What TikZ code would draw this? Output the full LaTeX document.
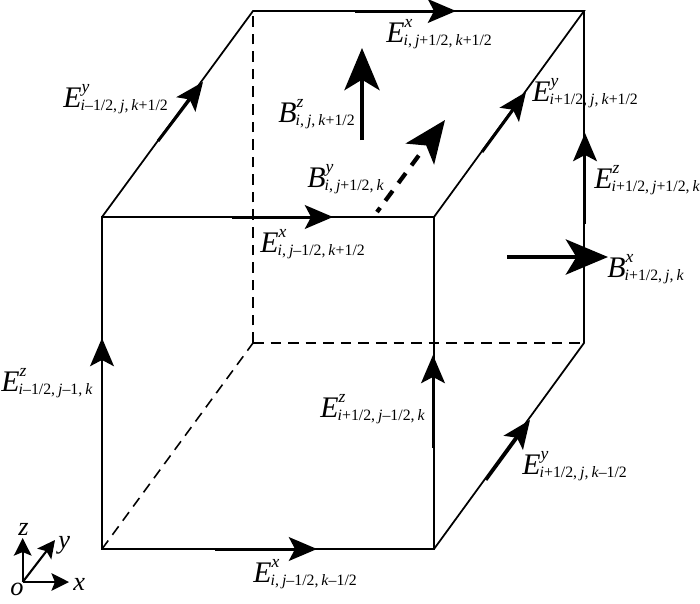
\documentclass[tikz,border=0pt]{standalone}
\usepackage{fontspec}
\setmainfont{Liberation Serif}
\usetikzlibrary{arrows.meta}

\newcommand{\fieldlab}[3]{\textit{#1}\rlap{\raisebox{8.5pt}{\fontsize{10}{10}\selectfont\textit{#2}}}\kern-0.5pt\raisebox{-2pt}{\fontsize{9}{9}\selectfont\spaceskip=1.7pt #3}}
\newcommand{\vi}{\textit{i}}
\newcommand{\vj}{\textit{j}}
\newcommand{\vk}{\textit{k}}

\tikzset{
    cubeedge/.style={line width=1pt},
    hidden/.style={line width=0.9pt,dash pattern=on 6pt off 4pt},
    efield/.style={line width=1.7pt,-{Stealth[length=16pt,width=13.5pt,inset=3.5pt]}},
    bfield/.style={line width=2.4pt,-{Stealth[length=24pt,width=20pt,inset=6pt]}},
    axis/.style={line width=1.2pt,-{Stealth[length=10pt,width=10pt,inset=2pt]}},
    lab/.style={anchor=base west,inner sep=0pt,font=\fontsize{17}{17}\selectfont},
    axislab/.style={anchor=base west,inner sep=0pt,font=\fontsize{15}{15}\selectfont\itshape},
}

\begin{document}
\begin{tikzpicture}[x=0.02cm,y=-0.02cm]
    \useasboundingbox (0,0) rectangle (700,603);

    % Cube corners
    \coordinate (flb) at (102,549);
    \coordinate (frb) at (434,549);
    \coordinate (flt) at (102,217);
    \coordinate (frt) at (434,217);
    \coordinate (blb) at (253,343);
    \coordinate (brb) at (584,343);
    \coordinate (blt) at (253,11);
    \coordinate (brt) at (584,11);

    % Visible edges
    \draw[cubeedge] (flb) -- (frb) -- (frt) -- (flt) -- cycle;
    \draw[cubeedge] (flt) -- (blt) -- (brt) -- (frt);
    \draw[cubeedge] (brt) -- (brb) -- (frb);

    % Hidden edges
    \draw[hidden] (flb) -- (blb);
    \draw[hidden] (blb) -- (brb);
    \draw[hidden] (blb) -- (blt);

    % E field arrows
    \draw[efield] (355,11) -- (456,11);
    \draw[efield] (232,217) -- (333,217);
    \draw[efield] (215,549) -- (317,549);
    \draw[efield] (158,141) -- (203,82);
    \draw[efield] (482,152) -- (526,92);
    \draw[efield] (486,480) -- (530,420);
    \draw[efield] (585,224) -- (585,133);
    \draw[efield] (102,429) -- (102,338);
    \draw[efield] (433,448) -- (433,355);

    % B field arrows
    \draw[bfield] (362,140) -- (362,48);
    \draw[bfield] (507,257) -- (608,257);
    \draw[bfield,dash pattern=on 3pt off 5pt on 7pt off 5.5pt on 7pt off 5.5pt on 7pt off 40pt] (377,212) -- (445,120);

    % Field labels
    \node[lab] (eytl) at (63,107) {\fieldlab{E}{y}{\vi–1/2, \vj, \vk+1/2}};
    \node[lab] (extop) at (386,42) {\fieldlab{E}{x}{\vi, \vj+1/2, \vk+1/2}};
    \node[lab] (eytr) at (532,101) {\fieldlab{E}{y}{\vi+1/2, \vj, \vk+1/2}};
    \node[lab] (bz) at (278,122) {\fieldlab{B}{z}{\vi, \vj, \vk+1/2}};
    \node[lab] (by) at (307,187) {\fieldlab{B}{y}{\vi, \vj+1/2, \vk}};
    \node[lab] (ezr) at (594,188) {\fieldlab{E}{z}{\vi+1/2, \vj+1/2, \vk}};
    \node[lab] (bx) at (607,277) {\fieldlab{B}{x}{\vi+1/2, \vj, \vk}};
    \node[lab] (exm) at (260,252) {\fieldlab{E}{x}{\vi, \vj–1/2, \vk+1/2}};
    \node[lab] (ezl) at (1,391) {\fieldlab{E}{z}{\vi–1/2, \vj–1, \vk}};
    \node[lab] (ezf) at (320,417) {\fieldlab{E}{z}{\vi+1/2, \vj–1/2, \vk}};
    \node[lab] (eybr) at (522,474) {\fieldlab{E}{y}{\vi+1/2, \vj, \vk–1/2}};
    \node[lab] (exb) at (253,582) {\fieldlab{E}{x}{\vi, \vj–1/2, \vk–1/2}};

    % Coordinate axes
    \coordinate (orig) at (22.7,582);
    \draw[axis] (orig) -- (69,582);
    \draw[axis] (orig) -- (55,540);
    \draw[axis] (orig) -- (22.7,538);
    \node[axislab] (olab) at (10,595) {o};
    \node[axislab] (xlab) at (73,590) {x};
    \node[axislab] (ylab) at (58,548) {y};
    \node[axislab] (zlab) at (18,535) {z};
\end{tikzpicture}
\end{document}
